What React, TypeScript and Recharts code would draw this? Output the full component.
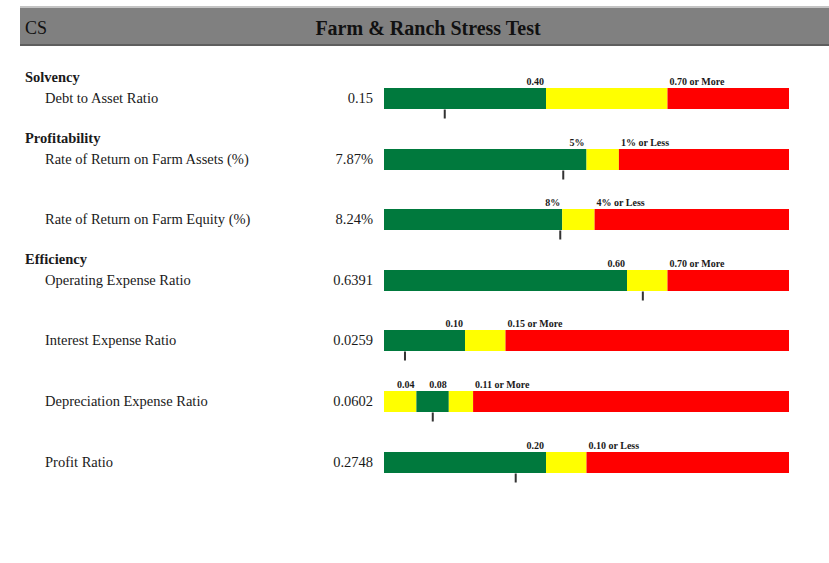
import { BarChart, Bar, XAxis, YAxis, ReferenceDot } from 'recharts';

const SERIF = '"Liberation Serif", "Times New Roman", Times, serif';
const ZONE_COLORS: Record<string, string> = {
  good: '#00793D',
  watch: '#FFFF00',
  bad: '#FF0000',
};
const BAR_H = 21;
const CHART_H = 60;
const CHART_PAD = 10;
const PLOT_W = 405;

// ---- data ----
const sectionTitles = ['Solvency', 'Profitability', 'Efficiency'];
const sectionFirstRow = [0, 1, 3];

const ratioNames = [
  'Debt to Asset Ratio',
  'Rate of Return on Farm Assets (%)',
  'Rate of Return on Farm Equity (%)',
  'Operating Expense Ratio',
  'Interest Expense Ratio',
  'Depreciation Expense Ratio',
  'Profit Ratio',
];
const ratioValues = [0.15, 7.87, 8.24, 0.6391, 0.0259, 0.0602, 0.2748];
const ratioValueLabels = ['0.15', '7.87%', '8.24%', '0.6391', '0.0259', '0.0602', '0.2748'];

// scale of each gauge, left→right when not reversed
const scaleDomains: [number, number][] = [
  [0, 1],
  [-20, 30],
  [-20, 30],
  [0, 1],
  [0, 0.5],
  [0, 0.5],
  [-0.4, 0.6],
];
const higherIsBetter = [false, true, true, false, false, false, true];

// zone boundaries as drawn from left to right
const zoneEdges = [
  [0, 0.4, 0.7, 1],
  [30, 5, 1, -20],
  [30, 8, 4, -20],
  [0, 0.6, 0.7, 1],
  [0, 0.1, 0.15, 0.5],
  [0, 0.04, 0.08, 0.11, 0.5],
  [0.6, 0.2, 0.1, -0.4],
];
const zoneKinds = [
  ['good', 'watch', 'bad'],
  ['good', 'watch', 'bad'],
  ['good', 'watch', 'bad'],
  ['good', 'watch', 'bad'],
  ['good', 'watch', 'bad'],
  ['watch', 'good', 'watch', 'bad'],
  ['good', 'watch', 'bad'],
];

const thresholdValues = [
  [0.4, 0.7],
  [5, 1],
  [8, 4],
  [0.6, 0.7],
  [0.1, 0.15],
  [0.04, 0.08, 0.11],
  [0.2, 0.1],
];
const thresholdLabels = [
  ['0.40', '0.70 or More'],
  ['5%', '1% or Less'],
  ['8%', '4% or Less'],
  ['0.60', '0.70 or More'],
  ['0.10', '0.15 or More'],
  ['0.04', '0.08', '0.11 or More'],
  ['0.20', '0.10 or Less'],
];

const rowBarTop = (i: number) => Math.round(87 + i * 60.6);

function Gauge({ row }: { row: number }) {
  const edges = zoneEdges[row];
  const datum: Record<string, any> = { name: 'r' };
  zoneKinds[row].forEach((_, j) => {
    const a = edges[j];
    const b = edges[j + 1];
    datum[`z${j}`] = [Math.min(a, b), Math.max(a, b)];
  });
  const labels = thresholdLabels[row];

  return (
    <BarChart
      width={PLOT_W + CHART_PAD * 2}
      height={CHART_H}
      data={[datum]}
      layout="vertical"
      barGap={-BAR_H}
      margin={{ top: 0, right: CHART_PAD, bottom: 0, left: CHART_PAD }}
      style={{ overflow: 'visible' }}
    >
      <XAxis
        type="number"
        domain={scaleDomains[row]}
        reversed={higherIsBetter[row]}
        allowDataOverflow
        hide
      />
      <YAxis type="category" dataKey="name" hide />
      {zoneKinds[row].map((kind, j) => (
        <Bar
          key={j}
          dataKey={`z${j}`}
          fill={ZONE_COLORS[kind]}
          barSize={BAR_H}
          isAnimationActive={false}
        />
      ))}
      {thresholdValues[row].map((t, k) => {
        const last = k === labels.length - 1;
        return (
          <ReferenceDot
            key={`t${k}`}
            x={t}
            y="r"
            r={0}
            ifOverflow="visible"
            shape={(p: any) => (
              <text
                x={p.cx + (last ? 2 : -2)}
                y={p.cy - BAR_H / 2 - 3}
                textAnchor={last ? 'start' : 'end'}
                fontFamily={SERIF}
                fontWeight="bold"
                fontSize={10}
                fill="#1a1a1a"
              >
                {labels[k]}
              </text>
            )}
          />
        );
      })}
      <ReferenceDot
        x={ratioValues[row]}
        y="r"
        r={0}
        ifOverflow="visible"
        shape={(p: any) => (
          <rect x={p.cx - 1} y={p.cy + BAR_H / 2 + 1} width={2} height={9} fill="#333" />
        )}
      />
    </BarChart>
  );
}

export default function App() {
  const textStyle = {
    position: 'absolute' as const,
    fontFamily: SERIF,
    fontSize: 14.5,
    lineHeight: '18px',
    color: '#1a1a1a',
    whiteSpace: 'nowrap' as const,
  };

  return (
    <div
      style={{
        position: 'absolute',
        left: 0,
        top: 0,
        width: 829,
        height: 563,
        background: '#fff',
        overflow: 'hidden',
      }}
    >
      {/* header band */}
      <div
        style={{
          position: 'absolute',
          left: 20,
          top: 6,
          width: 809,
          height: 36,
          background: '#808080',
          borderTop: '2px solid #c4c4c4',
          borderBottom: '2px solid #5e5e5e',
        }}
      />
      <div
        style={{
          position: 'absolute',
          left: 25,
          top: 17,
          fontFamily: SERIF,
          fontSize: 18,
          lineHeight: '22px',
          color: '#111',
        }}
      >
        CS
      </div>
      <div
        style={{
          position: 'absolute',
          left: 228,
          width: 400,
          top: 16,
          textAlign: 'center',
          fontFamily: SERIF,
          fontSize: 20,
          fontWeight: 'bold',
          lineHeight: '24px',
          color: '#111',
        }}
      >
        Farm &amp; Ranch Stress Test
      </div>

      {sectionTitles.map((title, s) => {
        const cy = rowBarTop(sectionFirstRow[s]) + BAR_H / 2 - 21;
        return (
          <div key={title} style={{ ...textStyle, left: 25, top: cy - 9, fontWeight: 'bold' }}>
            {title}
          </div>
        );
      })}

      {ratioNames.map((name, i) => {
        const top = rowBarTop(i);
        const cy = top + BAR_H / 2;
        return (
          <div key={name}>
            <div style={{ ...textStyle, left: 45, top: cy - 9 }}>{name}</div>
            <div style={{ ...textStyle, left: 273, width: 100, textAlign: 'right', top: cy - 9 }}>
              {ratioValueLabels[i]}
            </div>
            <div
              style={{
                position: 'absolute',
                left: 384 - CHART_PAD,
                top: top - 19,
              }}
            >
              <Gauge row={i} />
            </div>
          </div>
        );
      })}
    </div>
  );
}
